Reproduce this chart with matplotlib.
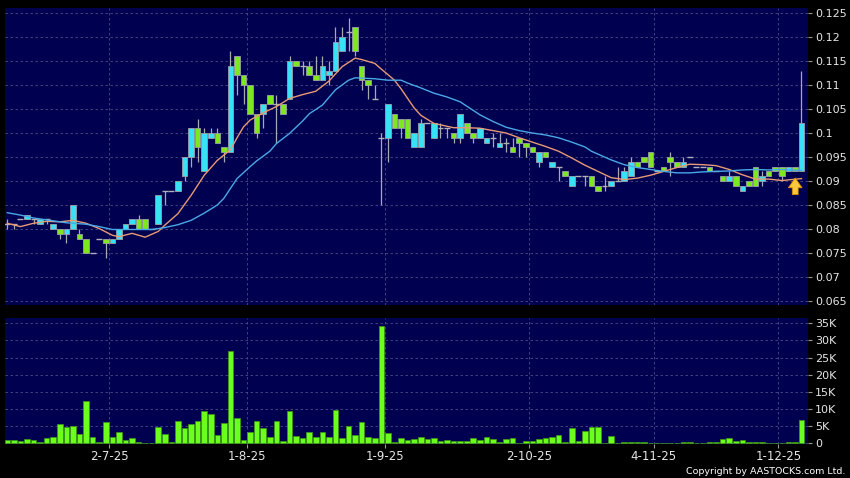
import numpy as np
import matplotlib
matplotlib.use('Agg')
import matplotlib.pyplot as plt

# daily candles (index = trading day)
opens = [0.081, 0.081, 0.082, 0.082, 0.082, 0.081, 0.082, 0.080, 0.080, 0.079,
         0.080, 0.079, 0.078, 0.075, 0.078, 0.078, 0.077, 0.078, 0.080, 0.081,
         0.082, 0.082, 0.080, 0.081, 0.088, 0.088, 0.088, 0.091, 0.095, 0.101,
         0.092, 0.099, 0.100, 0.097, 0.096, 0.116, 0.112, 0.110, 0.104, 0.104,
         0.108, 0.106, 0.106, 0.107, 0.115, 0.114, 0.114, 0.112, 0.111, 0.112,
         0.113, 0.117, 0.121, 0.122, 0.114, 0.111, 0.107, 0.099, 0.099, 0.104,
         0.103, 0.103, 0.097, 0.097, 0.102, 0.099, 0.101, 0.101, 0.100, 0.099,
         0.102, 0.100, 0.099, 0.098, 0.099, 0.097, 0.098, 0.097, 0.099, 0.098,
         0.097, 0.094, 0.096, 0.093, 0.093, 0.092, 0.089, 0.091, 0.091, 0.091,
         0.089, 0.089, 0.089, 0.090, 0.090, 0.091, 0.094, 0.095, 0.096, 0.092,
         0.093, 0.095, 0.094, 0.093, 0.095, 0.093, 0.093, 0.093, 0.092, 0.091,
         0.090, 0.091, 0.088, 0.090, 0.093, 0.090, 0.092, 0.093, 0.093, 0.092,
         0.093, 0.092]
highs = [0.082, 0.081, 0.082, 0.083, 0.082, 0.082, 0.082, 0.081, 0.080, 0.080,
         0.085, 0.080, 0.078, 0.075, 0.078, 0.078, 0.078, 0.080, 0.081, 0.082,
         0.083, 0.082, 0.080, 0.087, 0.088, 0.088, 0.090, 0.095, 0.101, 0.103,
         0.101, 0.101, 0.101, 0.097, 0.117, 0.116, 0.112, 0.110, 0.104, 0.106,
         0.108, 0.108, 0.106, 0.116, 0.115, 0.115, 0.115, 0.116, 0.116, 0.115,
         0.122, 0.122, 0.124, 0.122, 0.114, 0.111, 0.110, 0.100, 0.106, 0.104,
         0.103, 0.103, 0.100, 0.103, 0.102, 0.102, 0.102, 0.101, 0.100, 0.104,
         0.102, 0.100, 0.101, 0.099, 0.100, 0.100, 0.099, 0.099, 0.099, 0.098,
         0.097, 0.096, 0.096, 0.094, 0.093, 0.092, 0.091, 0.091, 0.091, 0.091,
         0.089, 0.091, 0.090, 0.093, 0.093, 0.095, 0.094, 0.095, 0.096, 0.092,
         0.093, 0.096, 0.094, 0.095, 0.095, 0.093, 0.093, 0.093, 0.092, 0.091,
         0.092, 0.091, 0.089, 0.090, 0.093, 0.092, 0.092, 0.093, 0.093, 0.093,
         0.093, 0.113]
lows = [0.080, 0.080, 0.082, 0.082, 0.081, 0.081, 0.081, 0.080, 0.078, 0.077,
        0.080, 0.078, 0.075, 0.075, 0.078, 0.074, 0.077, 0.078, 0.080, 0.081,
        0.080, 0.080, 0.080, 0.081, 0.085, 0.088, 0.088, 0.090, 0.093, 0.094,
        0.092, 0.099, 0.098, 0.094, 0.096, 0.108, 0.106, 0.104, 0.099, 0.101,
        0.106, 0.098, 0.104, 0.107, 0.114, 0.112, 0.112, 0.111, 0.111, 0.110,
        0.113, 0.117, 0.117, 0.116, 0.109, 0.107, 0.107, 0.085, 0.094, 0.101,
        0.099, 0.099, 0.097, 0.097, 0.102, 0.099, 0.099, 0.099, 0.098, 0.098,
        0.100, 0.098, 0.099, 0.098, 0.097, 0.097, 0.096, 0.096, 0.095, 0.095,
        0.096, 0.093, 0.095, 0.093, 0.090, 0.091, 0.089, 0.091, 0.089, 0.089,
        0.088, 0.088, 0.089, 0.090, 0.090, 0.091, 0.093, 0.094, 0.093, 0.092,
        0.092, 0.091, 0.093, 0.093, 0.095, 0.093, 0.093, 0.092, 0.092, 0.090,
        0.090, 0.089, 0.088, 0.089, 0.089, 0.089, 0.091, 0.092, 0.090, 0.092,
        0.092, 0.092]
closes = [0.081, 0.081, 0.082, 0.083, 0.082, 0.082, 0.082, 0.081, 0.079, 0.080,
          0.085, 0.078, 0.075, 0.075, 0.078, 0.077, 0.078, 0.080, 0.081, 0.082,
          0.080, 0.080, 0.080, 0.087, 0.088, 0.088, 0.090, 0.095, 0.101, 0.097,
          0.100, 0.100, 0.098, 0.096, 0.114, 0.112, 0.110, 0.104, 0.100, 0.106,
          0.106, 0.106, 0.104, 0.115, 0.114, 0.114, 0.112, 0.111, 0.114, 0.113,
          0.119, 0.120, 0.121, 0.117, 0.111, 0.110, 0.107, 0.099, 0.106, 0.101,
          0.101, 0.099, 0.100, 0.102, 0.102, 0.102, 0.101, 0.101, 0.099, 0.104,
          0.100, 0.099, 0.101, 0.099, 0.099, 0.098, 0.098, 0.096, 0.098, 0.097,
          0.096, 0.096, 0.095, 0.094, 0.093, 0.091, 0.091, 0.091, 0.091, 0.089,
          0.088, 0.089, 0.090, 0.090, 0.092, 0.094, 0.093, 0.094, 0.093, 0.092,
          0.092, 0.094, 0.093, 0.094, 0.095, 0.093, 0.093, 0.092, 0.092, 0.090,
          0.091, 0.089, 0.089, 0.089, 0.089, 0.091, 0.091, 0.092, 0.091, 0.093,
          0.092, 0.102]
# volume in thousands of shares
volumes = [1.0, 1.0, 0.7, 1.3, 1.0, 0.3, 1.5, 1.9, 5.6, 4.8,
           5.0, 2.7, 12.4, 1.8, 0.5, 6.2, 1.9, 3.2, 1.0, 1.5,
           0.4, 0.2, 0.1, 4.8, 2.7, 0.5, 6.5, 4.4, 5.6, 6.5,
           9.5, 8.6, 2.5, 5.9, 27.0, 7.3, 1.0, 3.4, 6.5, 4.4,
           1.8, 6.5, 0.7, 9.5, 2.1, 1.5, 3.2, 1.9, 3.4, 1.8,
           9.8, 1.6, 5.1, 2.4, 6.3, 1.9, 1.5, 34.3, 3.0, 0.3,
           1.5, 1.1, 1.2, 2.0, 1.4, 1.5, 0.8, 0.9, 0.8, 0.8,
           0.8, 1.6, 1.0, 1.8, 1.2, 0.3, 1.3, 1.5, 0.2, 0.8,
           0.8, 1.2, 1.5, 1.9, 2.4, 0.4, 4.4, 0.6, 3.7, 4.8,
           4.8, 0.2, 2.1, 0.2, 0.5, 0.5, 0.3, 0.3, 0.2, 0.1,
           0.2, 0.2, 0.1, 0.3, 0.3, 0.1, 0.1, 0.4, 0.4, 1.2,
           1.6, 0.7, 1.0, 0.3, 0.3, 0.4, 0.1, 0.1, 0.1, 0.4,
           0.4, 6.8]

# moving averages read at sample days
ma10_days = [0, 2, 4, 6, 8, 10, 12, 14, 16, 17, 19, 21, 23, 24, 26, 28, 30, 32,
             34, 35, 36, 37, 39, 41, 43, 45, 47, 49, 51, 53, 54, 56, 57, 59, 60,
             62, 63, 65, 66, 68, 70, 72, 74, 76, 78, 80, 82, 84, 86, 88, 90, 92,
             94, 96, 98, 100, 102, 104, 106, 108, 110, 112, 114, 116, 118, 121]
ma10 = [0.0812, 0.0805, 0.0812, 0.0816, 0.0815, 0.0818, 0.0812, 0.0801, 0.0787,
        0.0784, 0.0791, 0.0783, 0.0795, 0.0808, 0.0832, 0.0870, 0.0912, 0.0943,
        0.0965, 0.0990, 0.1013, 0.1027, 0.1042, 0.1055, 0.1072, 0.1080, 0.1087,
        0.1108, 0.1138, 0.1156, 0.1153, 0.1145, 0.1133, 0.1110, 0.1092, 0.1052,
        0.1037, 0.1020, 0.1017, 0.1011, 0.1011, 0.1010, 0.1005, 0.1000, 0.0990,
        0.0981, 0.0972, 0.0962, 0.0948, 0.0933, 0.0920, 0.0907, 0.0903, 0.0906,
        0.0912, 0.0920, 0.0928, 0.0935, 0.0934, 0.0932, 0.0924, 0.0913, 0.0904,
        0.0904, 0.0901, 0.0905]
ma20_days = [0, 2, 4, 6, 9, 12, 14, 16, 22, 24, 26, 28, 30, 32, 33, 35, 37, 38,
             40, 41, 43, 45, 46, 48, 49, 50, 52, 53, 56, 58, 60, 61, 63, 65, 67,
             69, 71, 72, 74, 76, 78, 80, 82, 84, 86, 88, 89, 90, 92, 94, 96, 98,
             100, 102, 104, 106, 108, 110, 112, 114, 116, 118, 121]
ma20 = [0.0834, 0.0829, 0.0823, 0.0819, 0.0813, 0.0810, 0.0805, 0.0799, 0.0799,
        0.0803, 0.0809, 0.0818, 0.0833, 0.0850, 0.0864, 0.0905, 0.0930, 0.0942,
        0.0962, 0.0978, 0.0999, 0.1025, 0.1040, 0.1058, 0.1074, 0.1090, 0.1110,
        0.1115, 0.1113, 0.1110, 0.1110, 0.1104, 0.1094, 0.1083, 0.1075, 0.1065,
        0.1047, 0.1038, 0.1024, 0.1012, 0.1005, 0.1000, 0.0996, 0.0990, 0.0981,
        0.0971, 0.0962, 0.0956, 0.0944, 0.0934, 0.0928, 0.0924, 0.0920, 0.0917,
        0.0917, 0.0919, 0.0920, 0.0921, 0.0923, 0.0924, 0.0923, 0.0924, 0.0922]

date_days = [15, 36, 57, 79, 98, 117]
date_labels = ['2-7-25', '1-8-25', '1-9-25', '2-10-25', '4-11-25', '1-12-25']
price_ticks = [0.065, 0.07, 0.075, 0.08, 0.085, 0.09, 0.095, 0.1, 0.105,
               0.11, 0.115, 0.12, 0.125]
vol_ticks = [0, 5, 10, 15, 20, 25, 30, 35]

PANEL = '#000050'
GRID = '#4c4c88'
UP = '#38e2f4'
DOWN = '#7ee81e'
TEXT = '#e6e6e6'


def style_axis(ax):
    ax.set_facecolor(PANEL)
    for s in ax.spines.values():
        s.set_visible(False)
    ax.yaxis.tick_right()
    ax.tick_params(axis='y', colors='#999999', labelcolor=TEXT, labelsize=8,
                   length=3, width=0.8, pad=2)
    ax.grid(True, color=GRID, linestyle=(0, (3, 3)), linewidth=0.6)
    ax.set_axisbelow(True)
    ax.set_xlim(-0.35, 122.0)
    ax.set_xticks([d + 0.5 for d in date_days])


def draw_candles(ax):
    x = np.arange(len(closes))
    o = np.array(opens)
    c = np.array(closes)
    ax.vlines(x, lows, highs, color='#a8a8b0', linewidth=0.9, zorder=2)
    up = c > o
    down = c < o
    flat = c == o
    ax.bar(x[up], (c - o)[up], bottom=o[up], width=0.85, color=UP,
           edgecolor='#9aa0a8', linewidth=0.6, zorder=3)
    ax.bar(x[down], (o - c)[down], bottom=c[down], width=0.85, color=DOWN,
           edgecolor='#9aa0a8', linewidth=0.6, zorder=3)
    ax.hlines(c[flat], x[flat] - 0.45, x[flat] + 0.45, color='#b0b0b8',
              linewidth=1.0, zorder=3)
    ax.plot(ma10_days, ma10, color='#e89a74', linewidth=1.0, zorder=4)
    ax.plot(ma20_days, ma20, color='#4aa8e6', linewidth=1.0, zorder=4)


def main():
    fig = plt.figure(figsize=(8.5, 4.78), dpi=100, facecolor='black')
    ax1 = fig.add_axes([5 / 850, 1 - 305 / 478, 803 / 850, 297 / 478])
    ax2 = fig.add_axes([5 / 850, 1 - 444 / 478, 803 / 850, 126 / 478])

    style_axis(ax1)
    draw_candles(ax1)
    ax1.set_ylim(0.06417, 0.12604)
    ax1.set_yticks(price_ticks)
    ax1.set_yticklabels([f'{v:g}' for v in price_ticks])
    ax1.tick_params(axis='x', length=0, labelbottom=False)

    # yellow marker under the last session
    ax1.annotate('', xy=(120.05, 0.0912), xytext=(120.05, 0.0866),
                 arrowprops=dict(arrowstyle='simple,head_length=0.5,head_width=0.7,tail_width=0.3',
                                 mutation_scale=14, fc='#ffc83c', ec='#d89000',
                                 linewidth=0.6), zorder=5)

    style_axis(ax2)
    x = np.arange(len(volumes))
    ax2.bar(x, volumes, width=0.85, color='#6cff1e', edgecolor='#3c9a10',
            linewidth=0.5, zorder=3)
    ax2.set_ylim(-0.15, 36.5)
    ax2.set_yticks(vol_ticks)
    ax2.set_yticklabels(['0'] + [f'{v}K' for v in vol_ticks[1:]])
    ax2.set_xticklabels(date_labels)
    ax2.tick_params(axis='x', colors='#999999', labelcolor=TEXT,
                    labelsize=8.5, length=3, width=0.8, pad=1.5)

    fig.text(0.994, 1 - 471 / 478, 'Copyright by AASTOCKS.com Ltd.',
             color='white', fontsize=6.8, ha='right', va='center')

    fig.savefig('out.png', dpi=100, facecolor='black')


if __name__ == '__main__':
    main()
